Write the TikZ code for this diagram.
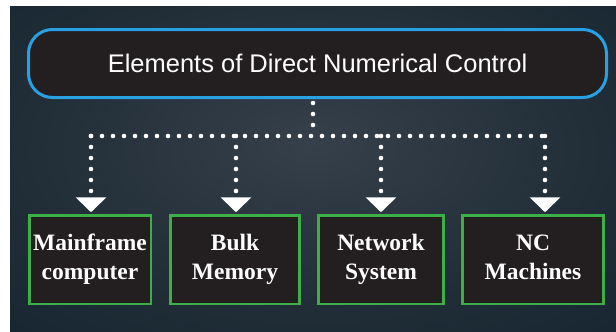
\documentclass[tikz,border=0pt]{standalone}
\usepackage{fontspec}
\setmainfont{Liberation Serif}
\newfontfamily\titlefont{Liberation Sans}
\usetikzlibrary{arrows.meta}
\newcommand\lstrut{\rule[-6pt]{0pt}{22pt}}
\definecolor{bgout}{RGB}{14,32,43}
\definecolor{bgin}{RGB}{54,64,74}
\definecolor{bgmid}{RGB}{36,48,58}
\definecolor{boxfill}{RGB}{35,31,32}
\definecolor{titleborder}{RGB}{40,160,225}
\definecolor{boxborder}{RGB}{62,175,72}
\pgfdeclareradialshading{bgshade}{\pgfpoint{0bp}{4bp}}{color(0bp)=(bgin); color(20bp)=(bgmid); color(50bp)=(bgout); color(100bp)=(bgout)}
\begin{document}
\begin{tikzpicture}[x=1pt,y=-1pt,
  titlebox/.style={draw=titleborder, line width=3pt, fill=boxfill, rounded corners=24pt,
    minimum width=578pt, minimum height=68pt, inner sep=0pt, outer sep=0pt,
    text=white, font=\titlefont\fontsize{25.5}{30}\selectfont},
  leafbox/.style={draw=boxborder, line width=2.5pt, fill=boxfill, minimum height=88.5pt,
    inner sep=0pt, outer sep=0pt, text=white, align=center,
    font=\bfseries\fontsize{23.5}{29}\selectfont},
  dots/.style={white, line width=4.6pt, line cap=round, dash pattern=on 0pt off 11pt},
  tip/.style={-{Triangle[width=30pt,length=15pt]}, shorten >=3pt}
]
\useasboundingbox (0,0) rectangle (616,332);
\fill[white] (0,0) rectangle (616,332);
\shade[shading=bgshade] (10,6) rectangle (616,332);

\node[titlebox] (title) at (317.5,63.5) {Elements of Direct Numerical Control};

\node[leafbox, minimum width=121.5pt] (b1) at (90,259.5) {Mainframe\lstrut\\computer\lstrut};
\node[leafbox, minimum width=128.75pt] (b2) at (235,259.5) {Bulk\lstrut\\Memory\lstrut};
\node[leafbox, minimum width=124.75pt] (b3) at (381,259.5) {Network\lstrut\\System\lstrut};
\node[leafbox, minimum width=140.75pt] (b4) at (533,259.5) {NC\lstrut\\Machines\lstrut};

\coordinate (s) at (313,103);
\coordinate (j) at (313,136);
\coordinate (a1) at (91,136);
\coordinate (a2) at (236,136);
\coordinate (a3) at (381,136);
\coordinate (a4) at (545,136);

\draw[dots] (s) -- (j);
\draw[dots] (a1) -- (a4);
\foreach \i in {1,2,3,4}{
  \draw[dots, tip] (a\i) -- (a\i |- b\i.north);
}
\end{tikzpicture}
\end{document}
